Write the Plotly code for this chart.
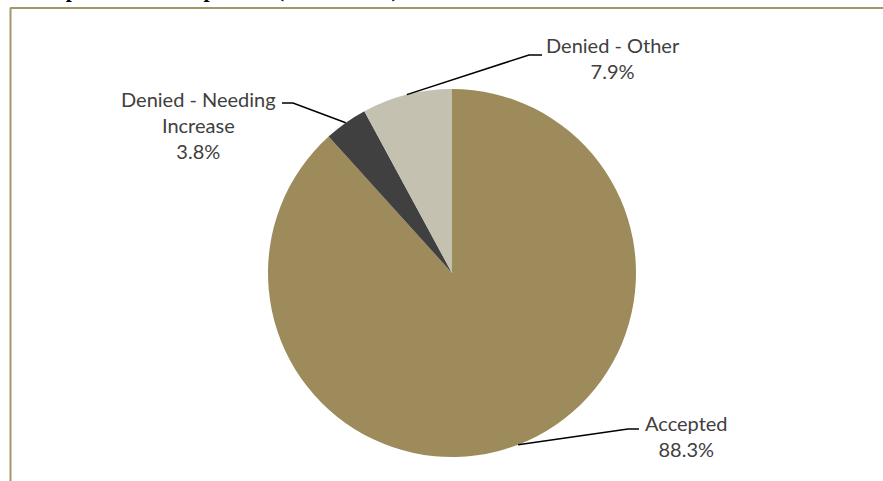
import math
import plotly.graph_objects as go

# Response breakdown
categories = ["Accepted", "Denied - Needing Increase", "Denied - Other"]
label_lines = ["Accepted", "Denied - Needing<br>Increase", "Denied - Other"]
shares = [88.3, 3.8, 7.9]
colors = ["#9E8B5B", "#404040", "#C5C1B0"]

W, H = 883, 481
CX, CY, R = 452, 273, 184  # pie centre and radius in pixels

# label centre and leader-line elbow/end (pixels) for each slice
label_pos = [(686, 436), (198, 125), (613, 58)]
elbows = [((628, 429), (639, 429)), ((293, 103), (282, 103)), ((529, 55), (542, 55))]


def px(x):
    return x / W


def py(y):
    return 1 - y / H


fig = go.Figure(
    go.Pie(
        labels=categories,
        values=shares,
        sort=False,
        direction="clockwise",
        rotation=0,
        marker=dict(colors=colors, line=dict(width=0)),
        textinfo="none",
        hoverinfo="label+percent",
        domain=dict(x=[px(CX - R), px(CX + R)], y=[py(CY + R), py(CY - R)]),
        showlegend=False,
    )
)

shapes = []
annotations = []
total = sum(shares)
start = 0.0
for i, v in enumerate(shares):
    mid = (start + v / 2) / total * 2 * math.pi
    start += v
    ex = CX + R * math.sin(mid)
    ey = CY - R * math.cos(mid)
    (bx, by), (tx, ty) = elbows[i]
    path = f"M {px(ex)},{py(ey)} L {px(bx)},{py(by)} L {px(tx)},{py(ty)}"
    shapes.append(dict(type="path", xref="paper", yref="paper", path=path,
                       line=dict(color="#000000", width=1.5)))
    lx, ly = label_pos[i]
    annotations.append(dict(
        x=px(lx), y=py(ly), xref="paper", yref="paper",
        text=f"{label_lines[i]}<br>{v:.1f}%",
        showarrow=False, xanchor="center", yanchor="middle", align="center",
        font=dict(family="Lato, Open Sans, sans-serif", size=20, color="#404040"),
    ))

# chart frame
shapes.append(dict(type="line", xref="paper", yref="paper",
                   x0=px(10.5), x1=px(10.5), y0=py(8), y1=py(H + 5),
                   line=dict(color="#A3976B", width=2)))
shapes.append(dict(type="line", xref="paper", yref="paper",
                   x0=px(10), x1=px(W + 5), y0=py(8), y1=py(8),
                   line=dict(color="#A3976B", width=2)))

# heading above the frame
annotations.append(dict(
    x=px(14), y=py(4.5), xref="paper", yref="paper",
    text="<b>Group Member Responses  (FY 2012-13)</b>",
    showarrow=False, xanchor="left", yanchor="bottom",
    font=dict(family="Liberation Serif, Times New Roman, serif", size=22, color="#000000"),
))

fig.update_layout(
    width=W, height=H,
    margin=dict(l=0, r=0, t=0, b=0),
    paper_bgcolor="#FFFFFF",
    plot_bgcolor="#FFFFFF",
    shapes=shapes,
    annotations=annotations,
)

fig.write_html("out.html")
